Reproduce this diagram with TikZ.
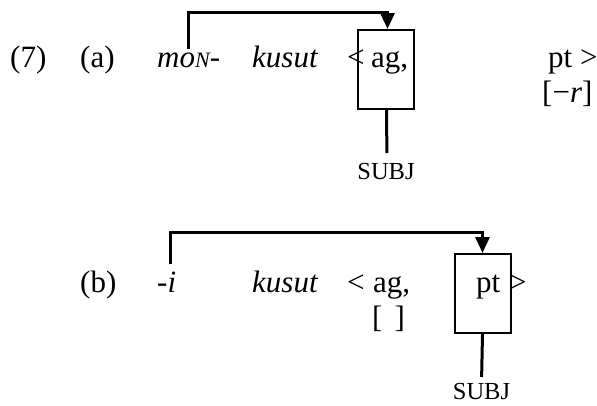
\documentclass[tikz,border=0pt]{standalone}
\usepackage{fontspec}
\setmainfont{Liberation Serif}
\usetikzlibrary{arrows.meta}

\begin{document}
\begin{tikzpicture}[x=1pt,y=-1pt,
  word/.style={anchor=base west, inner sep=0pt, font=\fontsize{31}{31}\selectfont},
  subjtag/.style={anchor=north, inner sep=0pt, font=\fontsize{24.5}{24.5}\selectfont},
  slotbox/.style={draw, line width=2pt, minimum width=56pt, minimum height=79pt, inner sep=0pt},
  link/.style={line width=3pt},
  pointer/.style={link, -{Triangle[width=14pt,length=16pt]}},
]
\useasboundingbox (0,0) rectangle (597,405);

% (a) moN- kusut < ag, pt >
\node[word] (numa) at (10,67) {(7)};
\node[word] (taga) at (80,67) {(a)};
\node[word] (mon) at (157,67) {\itshape mo{\fontsize{22}{22}\selectfont N}-};
\node[word] (verba) at (252,67) {\itshape kusut};
\node[word] (lta) at (347,67) {<};
\node[word] (aga) at (371,67) {ag,};
\node[word] (pta) at (548,67) {pt >};
\node[word] (feata) at (542,102) {[\textminus\textit{r}]};
\node[slotbox] (boxa) at (385.5,69.5) {};
\node[subjtag] (subja) at (386,163) {SUBJ};
\coordinate (topa) at (0,12);

\draw[pointer, shorten <=3pt] (mon.north) -- (mon.north |- topa) -| ([xshift=2pt]boxa.north);
\draw[link, shorten >=10pt] ([xshift=1pt]boxa.south) -- ([xshift=1pt]subja.north);

% (b) -i kusut < ag, pt >
\node[word] (tagb) at (80,292) {(b)};
\node[word] (suff) at (157,292) {-\textit{i}};
\node[word] (verbb) at (252,292) {\itshape kusut};
\node[word] (ltb) at (347,292) {<};
\node[word] (agb) at (373,292) {ag,};
\node[word] (featb) at (372,327) {[\hspace{12pt}]};
\node[slotbox] (boxb) at (482.5,293.5) {};
\node[word] (ptb) at (476,292) {pt};
\node[word] (gtb) at (509,292) {>};
\node[subjtag] (subjb) at (481.5,383) {SUBJ};
\coordinate (topb) at (0,232);

\draw[pointer, shorten <=7pt] ([xshift=4pt]suff.north) -- ([xshift=4pt]suff.north |- topb) -| (boxb.north);
\draw[link, shorten >=6pt] (boxb.south) -- (subjb.north);
\end{tikzpicture}
\end{document}
